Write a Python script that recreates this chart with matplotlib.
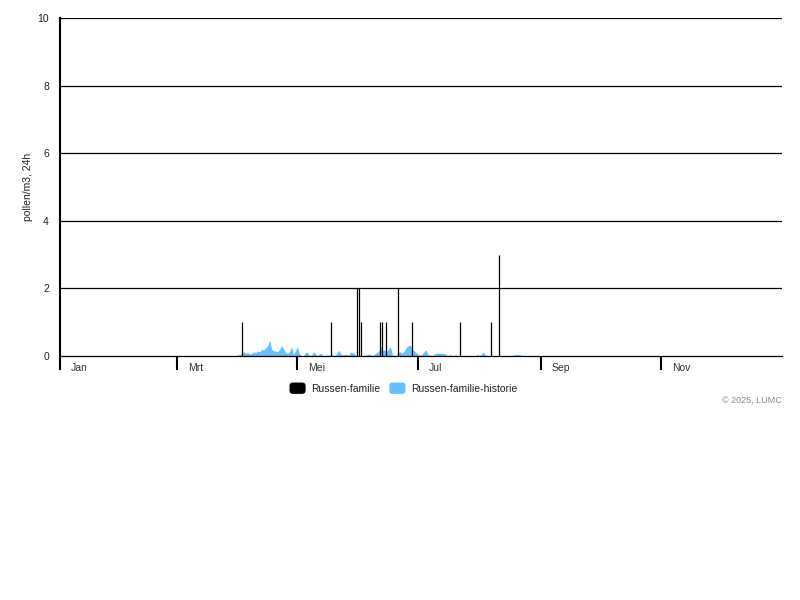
import matplotlib
matplotlib.use("Agg")
import matplotlib.pyplot as plt
from matplotlib.patches import FancyBboxPatch, Patch
from matplotlib.legend_handler import HandlerPatch
import numpy as np

plt.rcParams['font.family'] = ['Liberation Sans', 'DejaVu Sans']

# Daily pollen counts (day of year, value)
spike_days = [92, 137, 150, 151, 152, 162, 163, 165, 171, 178, 202, 218, 222]
spike_values = [1, 1, 2, 2, 1, 1, 1, 1, 2, 1, 1, 1, 3]

# Historical daily average, starting at day 88
history_start = 88
history_values = [
    0, 0, 0.05, 0.03, 0.10, 0.12, 0.08, 0.10, 0.05, 0.08,
    0.12, 0.10, 0.15, 0.12, 0.20, 0.18, 0.25, 0.30, 0.47, 0.20,
    0.15, 0.15, 0.12, 0.20, 0.30, 0.22, 0.10, 0.08, 0.12, 0.28,
    0.05, 0.15, 0.27, 0.08, 0, 0, 0.10, 0.12, 0.02, 0,
    0.12, 0.08, 0, 0.06, 0.08, 0, 0.02, 0.03, 0.02, 0.05,
    0.02, 0, 0.08, 0.17, 0.06, 0.03, 0.05, 0.05, 0.02, 0.12,
    0.10, 0.05, 0, 0, 0, 0, 0, 0.03, 0.05, 0.03,
    0, 0.05, 0.10, 0.12, 0.30, 0.15, 0.18, 0.12, 0.20, 0.28,
    0.05, 0, 0, 0.10, 0.12, 0.08, 0.15, 0.25, 0.30, 0.33,
    0.20, 0.15, 0.10, 0.05, 0.03, 0.05, 0.12, 0.18, 0.05, 0.02,
    0, 0.05, 0.08, 0.08, 0.08, 0.08, 0.08, 0.05, 0, 0.05,
    0, 0, 0.04, 0, 0, 0, 0, 0, 0, 0,
    0, 0, 0, 0.05, 0, 0.05, 0.12, 0.03, 0, 0,
    0, 0, 0, 0, 0, 0, 0, 0, 0, 0,
    0, 0, 0.05, 0.04, 0.05, 0.03, 0,
]
history_days = np.arange(history_start, history_start + len(history_values))

month_days = [0, 59, 120, 181, 243, 304]
month_labels = ["Jan", "Mrt", "Mei", "Jul", "Sep", "Nov"]

y_ticks = [0, 2, 4, 6, 8, 10]

black = "#000000"
blue = "#66bfff"


class RoundedSquare(HandlerPatch):
    def create_artists(self, legend, orig_handle, xdescent, ydescent,
                       width, height, fontsize, trans):
        p = FancyBboxPatch((-xdescent, -ydescent), width, height,
                           boxstyle="round,pad=0,rounding_size=2.5",
                           facecolor=orig_handle.get_facecolor(),
                           edgecolor="none", transform=trans)
        return [p]


fig = plt.figure(figsize=(8, 6), dpi=100)
ax = fig.add_axes([0.075, 0.4067, 0.9025, 0.5633])

ax.fill_between(history_days, history_values, 0, color=blue, linewidth=0, zorder=2)
ax.vlines(spike_days, 0, spike_values, color=black, linewidth=0.9, zorder=3)

ax.set_xlim(0, 365)
ax.set_ylim(0, 10)

for y in y_ticks[1:]:
    ax.axhline(y, color=black, linewidth=0.9, zorder=1)

for s in ["top", "right"]:
    ax.spines[s].set_visible(False)
ax.spines["left"].set_linewidth(1.5)
ax.spines["bottom"].set_linewidth(0.9)

ax.set_yticks(y_ticks)
ax.set_yticklabels([str(v) for v in y_ticks], fontsize=7.5, color="#222222")
ax.tick_params(axis="y", length=0, pad=8)

ax.set_xticks(month_days)
ax.set_xticklabels([])
ax.tick_params(axis="x", direction="out", length=10, width=1.5, color=black)
for d, lab in zip(month_days, month_labels):
    ax.annotate(lab, xy=(d, 0), xycoords=("data", "axes fraction"),
                xytext=(8, -8.5), textcoords="offset points",
                ha="left", va="center", fontsize=7.5, color="#333333")

ax.set_ylabel("pollen/m3, 24h", fontsize=7.5, color="#222222", labelpad=3)

handles = [Patch(facecolor=black), Patch(facecolor=blue)]
fig.legend(handles, ["Russen-familie", "Russen-familie-historie"],
           loc="center", bbox_to_anchor=(0.504, 0.353), ncol=2, frameon=False,
           fontsize=7.5, handlelength=1.55, handleheight=1.3, handletextpad=0.5,
           columnspacing=0.9, labelcolor="#222222",
           handler_map={Patch: RoundedSquare()})

fig.text(0.9775, 0.333, "© 2025, LUMC", ha="right", va="center", fontsize=6.5, color="#888888")

fig.savefig("out.png", dpi=100)
